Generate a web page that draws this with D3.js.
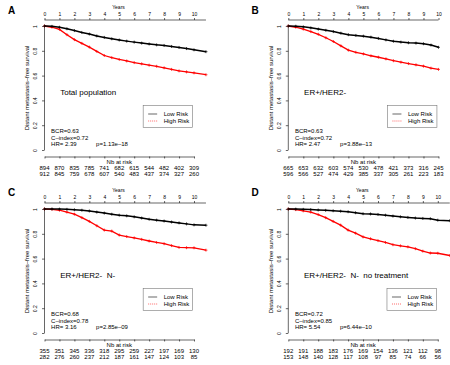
<!DOCTYPE html>
<html>
<head>
<meta charset="utf-8">
<script src="https://cdn.jsdelivr.net/npm/d3@7"></script>
<style>
  body { margin: 0; background: #fff; }
  svg { display: block; font-family: 'Liberation Sans', Arial, Helvetica, sans-serif; }
</style>
</head>
<body>
<div id="chart"></div>
<script>
const panelLetters = ['A', 'B', 'C', 'D']
const panelTitles = ['Total population', 'ER+/HER2-', 'ER+/HER2-  N-', 'ER+/HER2-  N-  no treatment']
const bcr = ['0.63', '0.63', '0.68', '0.72']
const cIndex = ['0.72', '0.72', '0.78', '0.85']
const hazardRatio = ['2.39', '2.47', '3.16', '5.54']
const pValues = ['1.13e–18', '3.88e–13', '2.85e–09', '6.44e–10']
const yTicks = [0, 0.2, 0.4, 0.6, 0.8, 1]
const yearTicks = [0, 1, 2, 3, 4, 5, 6, 7, 8, 9, 10]

// survival every half year
const timesLong = [0, 0.5, 1, 1.5, 2, 2.5, 3, 3.5, 4, 4.5, 5, 5.5, 6, 6.5, 7, 7.5, 8, 8.5, 9, 9.5, 10, 10.8]
const timesB = [0, 0.5, 1, 1.5, 2, 2.5, 3, 3.5, 4, 4.5, 5, 5.5, 6, 6.5, 7, 7.5, 8, 8.5, 9, 9.5, 10]

const lowA = [1, 0.997, 0.99, 0.978, 0.963, 0.948, 0.935, 0.92, 0.908, 0.897, 0.887, 0.878, 0.87, 0.862, 0.855, 0.848, 0.843, 0.835, 0.827, 0.818, 0.808, 0.793]
const highA = [1, 0.99, 0.973, 0.93, 0.89, 0.86, 0.83, 0.795, 0.762, 0.745, 0.73, 0.718, 0.705, 0.695, 0.684, 0.675, 0.663, 0.65, 0.638, 0.63, 0.622, 0.607]
const lowB = [1, 0.998, 0.993, 0.985, 0.975, 0.965, 0.955, 0.942, 0.93, 0.924, 0.918, 0.91, 0.9, 0.888, 0.877, 0.87, 0.865, 0.862, 0.857, 0.846, 0.828]
const highB = [1, 0.99, 0.975, 0.955, 0.933, 0.905, 0.875, 0.84, 0.805, 0.788, 0.775, 0.76, 0.748, 0.735, 0.72, 0.708, 0.697, 0.687, 0.676, 0.66, 0.65]
const lowC = [1, 1, 0.999, 0.997, 0.994, 0.99, 0.984, 0.975, 0.967, 0.958, 0.95, 0.945, 0.937, 0.927, 0.917, 0.91, 0.903, 0.895, 0.888, 0.88, 0.872, 0.869]
const highC = [1, 0.997, 0.99, 0.975, 0.958, 0.93, 0.9, 0.865, 0.83, 0.822, 0.79, 0.778, 0.767, 0.755, 0.742, 0.73, 0.72, 0.705, 0.69, 0.688, 0.687, 0.668]
const lowD = [1, 0.999, 0.997, 0.995, 0.992, 0.989, 0.986, 0.982, 0.978, 0.97, 0.962, 0.96, 0.956, 0.95, 0.943, 0.937, 0.932, 0.927, 0.924, 0.922, 0.91, 0.906]
const highD = [1, 0.995, 0.985, 0.975, 0.955, 0.93, 0.9, 0.87, 0.83, 0.805, 0.775, 0.76, 0.745, 0.73, 0.712, 0.703, 0.695, 0.68, 0.66, 0.645, 0.643, 0.625]

// numbers at risk, years 0..10
const riskLowA = [894, 870, 835, 785, 741, 682, 615, 544, 482, 402, 309]
const riskHighA = [912, 845, 759, 678, 607, 540, 483, 437, 374, 327, 260]
const riskLowB = [665, 653, 632, 603, 574, 530, 478, 421, 373, 316, 245]
const riskHighB = [596, 566, 527, 474, 429, 385, 337, 305, 261, 223, 183]
const riskLowC = [355, 351, 345, 336, 318, 295, 259, 227, 197, 169, 130]
const riskHighC = [282, 276, 260, 237, 212, 187, 161, 147, 124, 103, 85]
const riskLowD = [192, 191, 188, 183, 176, 169, 154, 136, 121, 112, 98]
const riskHighD = [153, 148, 140, 128, 117, 108, 97, 85, 74, 66, 56]

const panels = [
  { times: timesLong, low: lowA, high: highA, riskLow: riskLowA, riskHigh: riskHighA },
  { times: timesB, low: lowB, high: highB, riskLow: riskLowB, riskHigh: riskHighB },
  { times: timesLong, low: lowC, high: highC, riskLow: riskLowC, riskHigh: riskHighC },
  { times: timesLong, low: lowD, high: highD, riskLow: riskLowD, riskHigh: riskHighD }
]

const width = 450
const height = 365
const layout = [
  { x0: 44.5, x10: 194, top: 26, bottom: 150, letterX: 8, letterY: 14 },
  { x0: 288.3, x10: 438.5, top: 26, bottom: 150, letterX: 251.5, letterY: 14 },
  { x0: 44.5, x10: 194, top: 209, bottom: 333, letterX: 8, letterY: 196 },
  { x0: 288.3, x10: 437.8, top: 209, bottom: 333, letterX: 251.5, letterY: 196 }
]

const svg = d3.select('#chart').append('svg')
  .attr('width', width)
  .attr('height', height)

panels.forEach((p, i) => drawPanel(p, layout[i], i))

function drawPanel (p, box, i) {
  const x = d3.scaleLinear().domain([0, 10]).range([box.x0, box.x10])
  const y = d3.scaleLinear().domain([0, 1]).range([box.bottom, box.top])
  const g = svg.append('g')

  g.append('text')
    .attr('x', box.letterX)
    .attr('y', box.letterY)
    .attr('font-size', 10)
    .attr('font-weight', 'bold')
    .text(panelLetters[i])

  // top axis (years)
  const topAxis = g.append('g')
    .attr('transform', 'translate(0,' + (box.top - 6) + ')')
    .call(d3.axisTop(x).tickValues(yearTicks).tickSize(2).tickPadding(2.5).tickSizeOuter(0))
    .attr('font-family', null)
    .attr('font-size', 5)
  topAxis.select('.domain').remove()
  topAxis.selectAll('line').attr('stroke-width', 0.6)
  topAxis.append('line')
    .attr('x1', x(0))
    .attr('x2', x(d3.max(p.times)))
    .attr('stroke', '#000')
    .attr('stroke-width', 0.6)
  topAxis.append('text')
    .attr('x', x(4.95))
    .attr('y', -11.5)
    .attr('text-anchor', 'middle')
    .attr('fill', '#000')
    .text('Years')

  // left axis
  const leftAxis = g.append('g')
    .attr('transform', 'translate(' + x(0) + ',0)')
    .call(d3.axisLeft(y).tickValues(yTicks).tickSize(2.5).tickFormat(d => String(d)))
    .attr('font-family', null)
    .attr('font-size', 5)
  leftAxis.select('.domain').attr('stroke-width', 0.6)
    .attr('d', 'M0,' + y(0) + 'V' + y(1))
  leftAxis.selectAll('line').attr('stroke-width', 0.6)
  leftAxis.selectAll('text')
    .attr('x', null)
    .attr('dy', null)
    .attr('text-anchor', 'middle')
    .attr('transform', 'translate(-7.6,0) rotate(-90)')

  g.append('text')
    .attr('transform', 'translate(' + (x(0) - 15.8) + ',' + ((box.top + box.bottom) / 2) + ') rotate(-90)')
    .attr('text-anchor', 'middle')
    .attr('font-size', 6)
    .text('Distant metastasis–free survival')

  // curves
  const line = d3.line().x(d => x(d[0])).y(d => y(d[1]))
  const series = [
    { values: p.high, color: '#ff0000', width: 1.3 },
    { values: p.low, color: '#000000', width: 1.5 }
  ]
  series.forEach(s => {
    const pts = p.times.map((t, k) => [t, s.values[k]])
    g.append('path')
      .datum(pts)
      .attr('d', line)
      .attr('fill', 'none')
      .attr('stroke', s.color)
      .attr('stroke-width', s.width)
    g.append('g').selectAll('path')
      .data(pts)
      .enter().append('path')
      .attr('d', 'M-1.5,0H1.5M0,-1.5V1.5')
      .attr('transform', d => 'translate(' + x(d[0]) + ',' + y(d[1]) + ')')
      .attr('stroke', s.color)
      .attr('stroke-width', 0.7)
  })

  // title and stats
  g.append('text')
    .attr('x', x(1.05))
    .attr('y', box.bottom - 55)
    .attr('font-size', 8)
    .style('white-space', 'pre')
    .text(panelTitles[i])

  const stats = ['BCR=' + bcr[i], 'C–index=' + cIndex[i], 'HR= ' + hazardRatio[i]]
  g.append('g').selectAll('text')
    .data(stats)
    .enter().append('text')
    .attr('x', x(0.44))
    .attr('y', (d, k) => box.bottom - 17 + k * 6.5)
    .attr('font-size', 6)
    .style('white-space', 'pre')
    .text(d => d)
  g.append('text')
    .attr('x', x(3.45))
    .attr('y', box.bottom - 4)
    .attr('font-size', 6)
    .text('p=' + pValues[i])

  // legend
  const lx = x(6.6)
  const ly = box.bottom - 44.5
  const legend = g.append('g').attr('transform', 'translate(' + lx + ',' + ly + ')')
  legend.append('rect')
    .attr('width', 49.5)
    .attr('height', 22)
    .attr('fill', '#fff')
    .attr('stroke', '#777')
    .attr('stroke-width', 0.6)
  const items = [
    { label: 'Low Risk', color: '#000', dash: null },
    { label: 'High Risk', color: '#ff0000', dash: '1,1' }
  ]
  items.forEach((it, k) => {
    const yy = 8.5 + k * 7
    legend.append('line')
      .attr('x1', 5).attr('x2', 14)
      .attr('y1', yy).attr('y2', yy)
      .attr('stroke', it.color)
      .attr('stroke-width', 0.6)
      .attr('stroke-dasharray', it.dash)
    legend.append('text')
      .attr('x', 20.5)
      .attr('y', yy)
      .attr('dy', '0.35em')
      .attr('font-size', 6)
      .text(it.label)
  })

  // bottom axis and numbers at risk
  const bottomAxis = g.append('g')
    .attr('transform', 'translate(0,' + (box.bottom + 6.5) + ')')
    .call(d3.axisBottom(x).tickValues(yearTicks).tickSize(2).tickSizeOuter(0).tickFormat(''))
  bottomAxis.selectAll('line, path').attr('stroke-width', 0.6)

  g.append('text')
    .attr('x', x(5))
    .attr('y', box.bottom + 14)
    .attr('text-anchor', 'middle')
    .attr('font-size', 6)
    .text('Nb at risk')

  const rows = [p.riskLow, p.riskHigh]
  rows.forEach((row, r) => {
    g.append('g').selectAll('text')
      .data(row)
      .enter().append('text')
      .attr('x', (d, k) => x(yearTicks[k]))
      .attr('y', box.bottom + 20.2 + r * 5.5)
      .attr('text-anchor', 'middle')
      .attr('font-size', 6)
      .text(d => d)
  })
}
</script>
</body>
</html>
